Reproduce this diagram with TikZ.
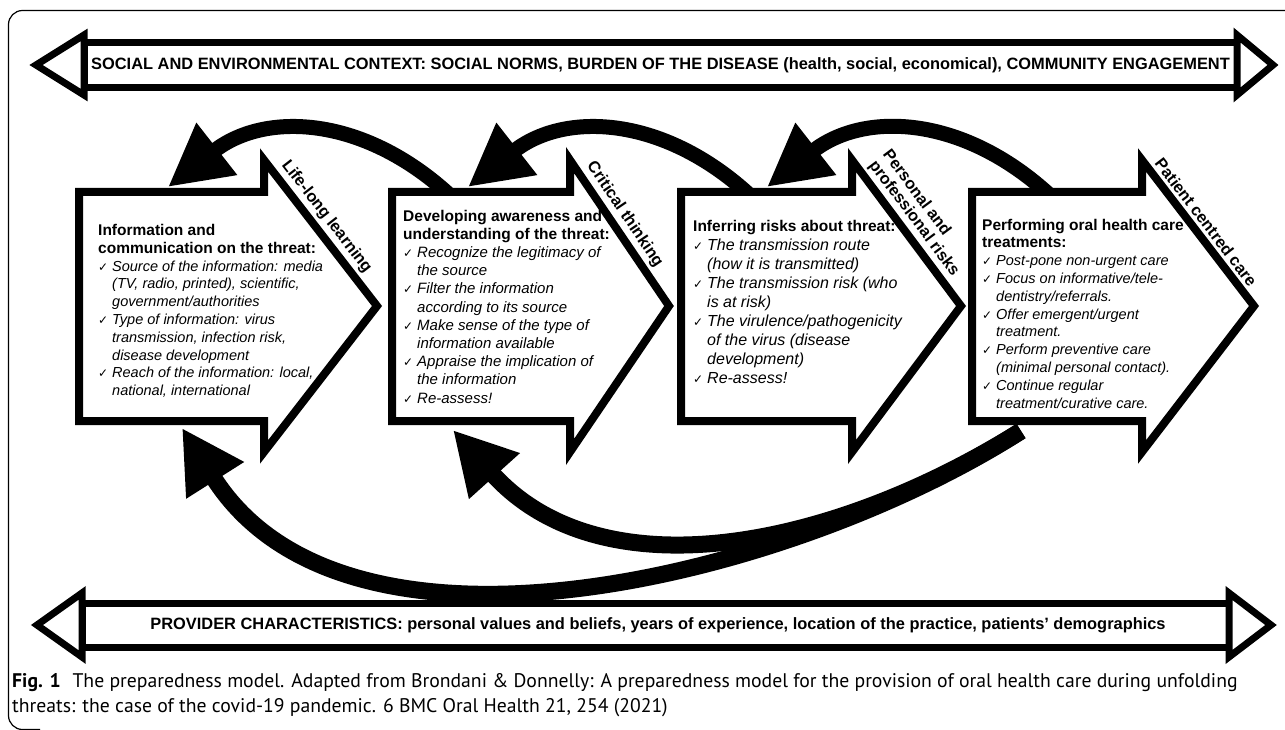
\documentclass[tikz,border=0pt]{standalone}
\usepackage{fontspec}
\setmainfont{Liberation Sans}
\newfontfamily\capfont{PT Sans}
\newfontfamily\symfont{DejaVu Sans}
\usetikzlibrary{arrows.meta,positioning,calc}
\newcommand{\ck}{\makebox[14pt][l]{\symfont\upshape\fontsize{12}{12}\selectfont ✓}}
\newcommand{\ind}{\hspace*{14pt}}
\newcommand{\ttl}[1]{{\upshape\bfseries\fontsize{15.5}{18}\selectfont #1}}
\newcommand{\prisks}{Personal and\\professional risks}
\tikzset{
  blockarrow/.style={draw, line width=8pt, fill=white, miter limit=20},
  banner/.style={draw, line width=7pt, fill=white},
  bannertext/.style={inner sep=0pt, font=\bfseries\fontsize{16.4}{18}\selectfont},
  loopback/.style={line width=15pt, -{Triangle[length=62pt,width=62pt]}},
  feedback/.style={line width=17pt, -{Triangle[length=62pt,width=64pt]}},
  boxtext/.style={anchor=west, align=left, inner sep=0pt, font=\itshape\fontsize{14.5}{17.8}\selectfont},
  edgelabel/.style={sloped, above=1pt, align=left, inner sep=2pt, font=\bfseries\fontsize{16.3}{17}\selectfont},
}
\begin{document}
\begin{tikzpicture}[x=1pt,y=-1pt]
\useasboundingbox (0,0) rectangle (1285,730);
% frame of the figure
\draw[line width=1.2pt, rounded corners=14pt] (1295,10.5) -- (8.5,10.5) -- (8.5,729.5) -- (40,729.5);

% top banner
\draw[banner] (84,42.5) rectangle (1237,87.5);
\draw[banner] (84,35) -- (36,65) -- (84,95) -- cycle;
\draw[banner] (1237,35) -- (1273,65) -- (1237,95) -- cycle;
\node[bannertext] (context) at (660.5,65) {SOCIAL AND ENVIRONMENTAL CONTEXT: SOCIAL NORMS, BURDEN OF THE DISEASE (health, social, economical), COMMUNITY ENGAGEMENT};

% bottom banner
\draw[banner] (82,603) rectangle (1229,647);
\draw[banner] (82,593) -- (37,625) -- (82,657) -- cycle;
\draw[banner] (1229,593) -- (1271,625) -- (1229,657) -- cycle;
\node[bannertext] (provider) at (658,625) {PROVIDER CHARACTERISTICS: personal values and beliefs, years of experience, location of the practice, patients’ demographics};

% loops between the steps
\coordinate (out2) at (460,205);
\coordinate (out3) at (760,205);
\coordinate (out4) at (1060,205);
\coordinate (in1) at (168,187);
\coordinate (in2) at (468,187);
\coordinate (in3) at (767,187);
\draw[loopback] (out2) to[out=135,in=38,looseness=1.1] (in1);
\draw[loopback] (out3) to[out=135,in=38,looseness=1.1] (in2);
\draw[loopback] (out4) to[out=135,in=38,looseness=1.1] (in3);

\coordinate (back4) at (1021,431);
\coordinate (ret2) at (453,430);
\coordinate (ret1) at (182,428);
\draw[feedback] (back4) to[out=212,in=-48] (ret2);
\draw[feedback] (back4) .. controls (797,575) and (348,690) .. (ret1);

% the four steps
\foreach \n/\l/\b/\t/\p/\lab in {1/79/264/377/0.45/Life-long learning,
    2/392/570/669/0.43/Critical thinking,
    3/681/852/961/0.46/\prisks,
    4/972/1142/1254/0.48/Patient centred care} {
  \draw[blockarrow] (\l,192) -- (\b,192) -- (\b,160)
    -- node[edgelabel, pos=\p] (lab\n) {\lab} (\t,306)
    -- (\b,452) -- (\b,421) -- (\l,421) -- cycle;
}

\node[boxtext] (info) at (98,311) {\ttl{Information and}\\
  \ttl{communication on the threat:}\\
  \ck Source of the information: media\\
  \ind (TV, radio, printed), scientific,\\
  \ind government/authorities\\
  \ck Type of information: virus\\
  \ind transmission, infection risk,\\
  \ind disease development\\
  \ck Reach of the information: local,\\
  \ind national, international};

\node[boxtext, font=\itshape\fontsize{15}{18.2}\selectfont] (aware) at (403,306.5) {\ttl{Developing awareness and}\\
  \ttl{understanding of the threat:}\\
  \ck Recognize the legitimacy of\\
  \ind the source\\
  \ck Filter the information\\
  \ind according to its source\\
  \ck Make sense of the type of\\
  \ind information available\\
  \ck Appraise the implication of\\
  \ind the information\\
  \ck Re-assess!};

\node[boxtext, font=\itshape\fontsize{16}{18.9}\selectfont] (risks) at (693,302) {\ttl{Inferring risks about threat:}\\
  \ck The transmission route\\
  \ind (how it is transmitted)\\
  \ck The transmission risk (who\\
  \ind is at risk)\\
  \ck The virulence/pathogenicity\\
  \ind of the virus (disease\\
  \ind development)\\
  \ck Re-assess!};

\node[boxtext] (treat) at (982,313.5) {\ttl{Performing oral health care}\\
  \ttl{treatments:}\\
  \ck Post-pone non-urgent care\\
  \ck Focus on informative/tele-\\
  \ind dentistry/referrals.\\
  \ck Offer emergent/urgent\\
  \ind treatment.\\
  \ck Perform preventive care\\
  \ind (minimal personal contact).\\
  \ck Continue regular\\
  \ind treatment/curative care.};

% caption
\node[anchor=north west, align=left, inner sep=0pt, font=\capfont\fontsize{19.7}{25}\selectfont] (caption) at (12,673) {\textbf{Fig. 1}\hspace{0.6em}The preparedness model. Adapted from Brondani \& Donnelly: A preparedness model for the provision of oral health care during unfolding\\
  threats: the case of the covid-19 pandemic. 6 BMC Oral Health 21, 254 (2021)};
\end{tikzpicture}
\end{document}
